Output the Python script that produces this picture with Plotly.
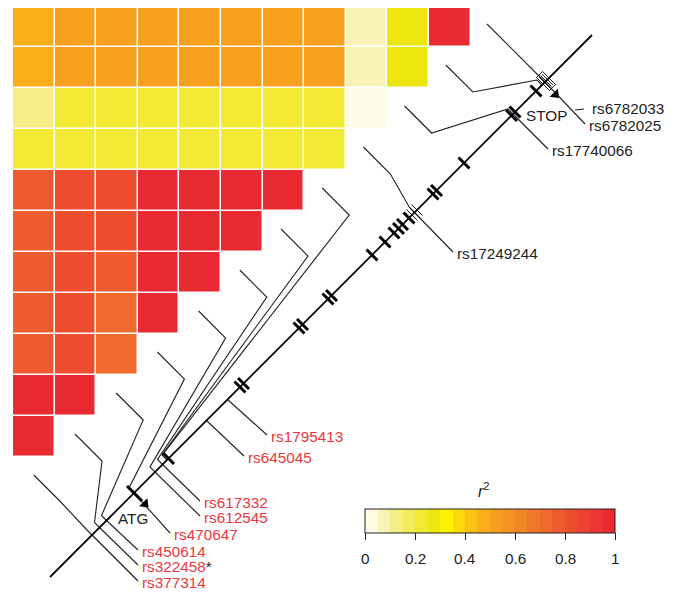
import plotly.graph_objects as go

# ---------------- data ----------------
snp_ids = ["rs377314", "rs322458*", "rs450614", "rs470647", "rs612545", "rs617332",
           "rs645045", "rs1795413", "rs17249244", "rs17740066", "rs6782033", "rs6782025"]
# position of each SNP along the gene track (track units), where its label leader starts
snp_pos = [42, 49.5, 56.5, 84, 105, 112.5, 156.5, 177.5, 364.5, 463, 492, 495]
# where each LD-plot connector meets the gene track
ld_track_pos = [42, 49.5, 56.5, 84, 105, 112.5, 117, 119, 364.5, 463, 492, 495]
label_is_red = [True] * 8 + [False] * 4

# pairwise r^2, top row of the triangle first
r2_rows = [
    [0.47, 0.52, 0.52, 0.52, 0.52, 0.52, 0.52, 0.52, 0.07, 0.27, 0.97],
    [0.47, 0.52, 0.52, 0.52, 0.52, 0.52, 0.52, 0.52, 0.07, 0.27],
    [0.12, 0.22, 0.22, 0.22, 0.22, 0.22, 0.22, 0.22, 0.02],
    [0.22, 0.22, 0.22, 0.22, 0.22, 0.22, 0.22, 0.22],
    [0.77, 0.80, 0.80, 0.97, 0.97, 0.97, 0.97],
    [0.77, 0.80, 0.80, 0.97, 0.97, 0.97],
    [0.77, 0.80, 0.77, 0.97, 0.97],
    [0.77, 0.81, 0.72, 0.97],
    [0.77, 0.81, 0.73],
    [0.97, 0.97],
    [0.97],
]

exon_ticks = [118.5, 190, 193.5, 249, 252.5, 278, 281.5, 322, 335, 344, 348.5, 352.5,
              359, 383, 386.5, 414, 461.5, 465, 486]
minor_ticks = [362, 364.5, 367, 494.5, 496, 497.5]
atg_pos = 84
stop_pos = 494
stop_box = [493, 499]

r2_band_colors = ["#fdfbe6", "#f9f4b6", "#f5ee86", "#f2ea5a", "#f2e934", "#eee60f",
                  "#fff200", "#fdd80a", "#fcc212", "#f9ae1a", "#f7a01f", "#f59424",
                  "#f38628", "#f1782b", "#f0692d", "#ef5b2e", "#ee4e2f", "#ec4231",
                  "#eb3632", "#ea2a33"]
cbar_ticks = [0, 0.2, 0.4, 0.6, 0.8, 1]
cbar_ticktext = ["0", "0.2", "0.4", "0.6", "0.8", "1"]

# ---------------- layout geometry (screen-pixel frame) ----------------
OFF = 8                      # page body margin
FW, FH = 673, 587            # figure size
CELL_X0, CELL_Y0, CELL_W, CELL_H = 13, 6, 41.6, 41
TRACK_X0, TRACK_Y0, TRACK_LEN = 50, 577, 542
STAIR_X0, STAIR_Y0, STAIR_DX, STAIR_DY, BEND = 487, 24, 41.2, 41, 27
KINK = 5
LABEL_X = [141, 141, 141, 173, 203, 203, 247, 270, 456, 551, 591, 588]
LABEL_Y = [582, 566, 551, 534, 517, 502, 457, 436, 253, 150, 108, 125]
CBAR_X0, CBAR_X1, CBAR_TOP, CBAR_LABEL_Y = 365, 615, 509, 558
FONT = "Liberation Sans, Arial, Helvetica, sans-serif"
RED = "#e8383d"
DARK = "#222222"
FS = 15.3


def track_xy(t, d=0.0):
    """point on gene track at position t, shifted d perpendicular (down-right)."""
    return TRACK_X0 + t + d, TRACK_Y0 - t + d


n = len(snp_ids)
ncol = len(r2_rows[0])
z = [row + [None] * (ncol - len(row)) for row in r2_rows]
xs = [CELL_X0 + CELL_W * (j + 0.5) for j in range(ncol)]
ys = [CELL_Y0 + CELL_H * (i + 0.5) for i in range(len(r2_rows))]

colorscale = []
nb = len(r2_band_colors)
for i, c in enumerate(r2_band_colors):
    colorscale.append([i / nb, c])
    colorscale.append([(i + 1) / nb, c])

fig = go.Figure()
fig.add_trace(go.Heatmap(
    z=z, x=xs, y=ys, zmin=0, zmax=1, colorscale=colorscale, xgap=1.5, ygap=1.5,
    hoverinfo="skip",
    colorbar=dict(orientation="h", x=((CBAR_X0 + CBAR_X1) / 2 - OFF) / FW, xanchor="center",
                  y=1 - (CBAR_TOP - OFF) / FH, yanchor="top",
                  len=(CBAR_X1 - CBAR_X0) / FW, lenmode="fraction", thickness=24,
                  xpad=0, ypad=0,
                  outlinewidth=1, outlinecolor=DARK, ticks="outside", ticklen=7,
                  tickwidth=1, tickcolor=DARK, tickvals=cbar_ticks, showticklabels=False),
))

# LD connectors from staircase to gene track
lx, ly = [], []
for i in range(n):
    k = n - 1 - i  # 0 = top of staircase
    sx, sy = STAIR_X0 - STAIR_DX * k, STAIR_Y0 + STAIR_DY * k
    bx, by = sx + BEND, sy + BEND
    kx, ky = track_xy(ld_track_pos[i], -KINK)
    ex, ey = track_xy(ld_track_pos[i])
    lx += [sx, bx, kx, ex, None]
    ly += [sy, by, ky, ey, None]
# label leaders
for i in range(n):
    if snp_ids[i] == "rs6782033":
        lx += [LABEL_X[i] - 16, LABEL_X[i] - 7, None]
        ly += [LABEL_Y[i] + 2, LABEL_Y[i] + 1, None]
        continue
    x0, y0 = track_xy(snp_pos[i])
    lx += [x0, LABEL_X[i] - 3, None]
    ly += [y0, LABEL_Y[i] - 1, None]
fig.add_trace(go.Scatter(x=lx, y=ly, mode="lines", line=dict(color="#262626", width=1.15),
                         hoverinfo="skip"))

# gene track
gx0, gy0 = track_xy(0)
gx1, gy1 = track_xy(TRACK_LEN)
fig.add_trace(go.Scatter(x=[gx0, gx1], y=[gy0, gy1], mode="lines",
                         line=dict(color="black", width=1.8), hoverinfo="skip"))

# thick ticks
tx, ty = [], []
for t in exon_ticks:
    a, b = track_xy(t, -5.5)
    c, d = track_xy(t, 5.5)
    tx += [a, c, None]
    ty += [b, d, None]
a, b = track_xy(atg_pos, -7)
c, d = track_xy(atg_pos, 8)
tx += [a, c, None]
ty += [b, d, None]
fig.add_trace(go.Scatter(x=tx, y=ty, mode="lines", line=dict(color="black", width=3),
                         hoverinfo="skip"))

# thin ticks + stop box
mx, my = [], []
for t in minor_ticks:
    a, b = track_xy(t, -5.5)
    c, d = track_xy(t, 5.5)
    mx += [a, c, None]
    my += [b, d, None]
corners = [track_xy(stop_box[0], -6.5), track_xy(stop_box[1], -6.5),
           track_xy(stop_box[1], 6.5), track_xy(stop_box[0], 6.5), track_xy(stop_box[0], -6.5)]
mx += [p[0] for p in corners] + [None]
my += [p[1] for p in corners] + [None]
fig.add_trace(go.Scatter(x=mx, y=my, mode="lines", line=dict(color="black", width=0.9),
                         hoverinfo="skip"))

# ATG / STOP arrowheads
ax_, ay_ = zip(track_xy(atg_pos, 11), track_xy(stop_pos, 11.5))
fig.add_trace(go.Scatter(x=list(ax_), y=list(ay_), mode="markers",
                         marker=dict(symbol="triangle-right", size=10, angle=45, color="black",
                                     line=dict(width=0)), hoverinfo="skip"))

annotations = []
for i in range(n):
    name = snp_ids[i]
    txt = name
    if name.endswith("*"):
        txt = name[:-1] + "<span style='color:%s'>*</span>" % DARK
    annotations.append(dict(x=LABEL_X[i], y=LABEL_Y[i], xref="x", yref="y", text=txt,
                            showarrow=False, xanchor="left", yanchor="middle",
                            font=dict(size=FS, color=RED if label_is_red[i] else DARK,
                                      family=FONT), borderpad=0))
atx, aty = track_xy(atg_pos, 12)
annotations.append(dict(x=atx - 13, y=aty + 13, xref="x", yref="y", text="ATG", showarrow=False,
                        xanchor="center", yanchor="middle", borderpad=0,
                        font=dict(size=FS, color=DARK, family=FONT)))
stx, sty = track_xy(stop_pos, 17)
annotations.append(dict(x=stx - 15, y=sty + 15, xref="x", yref="y", text="STOP", showarrow=False,
                        xanchor="center", yanchor="middle", borderpad=0,
                        font=dict(size=FS, color=DARK, family=FONT)))
annotations.append(dict(x=484, y=490, xref="x", yref="y", text="<i>r</i><sup>2</sup>",
                        showarrow=False, xanchor="center", yanchor="middle", borderpad=0,
                        font=dict(size=16, color=DARK, family=FONT)))
for v, lab in zip(cbar_ticks, cbar_ticktext):
    annotations.append(dict(x=CBAR_X0 + v * (CBAR_X1 - CBAR_X0), y=CBAR_LABEL_Y, xref="x",
                            yref="y", text=lab, showarrow=False, xanchor="center",
                            yanchor="middle", borderpad=0,
                            font=dict(size=FS, color=DARK, family=FONT)))

fig.update_layout(
    width=FW, height=FH, margin=dict(l=0, r=0, t=0, b=0),
    paper_bgcolor="white", plot_bgcolor="white", showlegend=False,
    xaxis=dict(range=[OFF, OFF + FW], visible=False, fixedrange=True),
    yaxis=dict(range=[OFF + FH, OFF], visible=False, fixedrange=True),
    annotations=annotations,
)
fig.write_html("out.html")
